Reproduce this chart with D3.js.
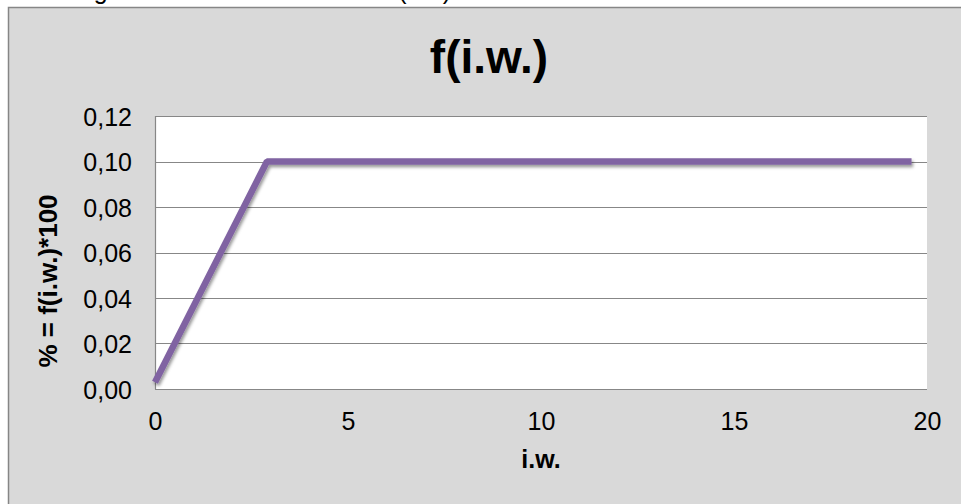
<!DOCTYPE html>
<html>
<head>
<meta charset="utf-8">
<script src="https://cdn.jsdelivr.net/npm/d3@7"></script>
<style>
  html, body { margin: 0; padding: 0; background: #ffffff; overflow: hidden; }
  svg { display: block; font-family: "Liberation Sans", Arial, sans-serif; }
</style>
</head>
<body>
<svg id="chart" width="961" height="504"></svg>
<script>
// ---- data ----
const xValues = [0, 2.9, 19.6];
const yValues = [0.003, 0.1, 0.1];
const xTicks = [0, 5, 10, 15, 20];
const yTicks = [0, 0.02, 0.04, 0.06, 0.08, 0.10, 0.12];
const chartTitle = "f(i.w.)";
const xTitle = "i.w.";
const yTitle = "% = f(i.w.)*100";
const captionText = "Fig. 3 Grafico della funzione f(i.w.)";

const svg = d3.select("#chart");
const plot = { left: 155, right: 927, top: 116, bottom: 389 };

const defs = svg.append("defs");
const f = defs.append("filter").attr("id", "shadow").attr("x", "-10%").attr("y", "-10%").attr("width", "120%").attr("height", "140%");
f.append("feDropShadow").attr("dx", 1.5).attr("dy", 2.5).attr("stdDeviation", 1.5)
  .attr("flood-color", "#000").attr("flood-opacity", 0.4);

// caption above (cut off at the top edge, as in the reference)
svg.append("text")
  .attr("x", 451).attr("y", -1.5)
  .attr("text-anchor", "end")
  .attr("font-size", 25)
  .attr("fill", "#000")
  .text(captionText);

// chart area
svg.append("rect")
  .attr("x", 8.5).attr("y", 7.5)
  .attr("width", 980).attr("height", 520)
  .attr("fill", "#D9D9D9").attr("stroke", "#868686").attr("stroke-width", 1.5);

const x = d3.scaleLinear().domain([0, 20]).range([plot.left, plot.right]);
const y = d3.scaleLinear().domain([0, 0.12]).range([plot.bottom, plot.top]);

// plot area
svg.append("rect")
  .attr("x", plot.left).attr("y", plot.top)
  .attr("width", plot.right - plot.left).attr("height", plot.bottom - plot.top)
  .attr("fill", "#ffffff");

// gridlines
svg.append("g").selectAll("line").data(yTicks).join("line")
  .attr("x1", plot.left).attr("x2", plot.right)
  .attr("y1", d => Math.round(y(d)) + 0.5).attr("y2", d => Math.round(y(d)) + 0.5)
  .attr("stroke", "#878787").attr("stroke-width", 1.2);

// left axis line
svg.append("line")
  .attr("x1", plot.left + 0.5).attr("x2", plot.left + 0.5)
  .attr("y1", plot.top).attr("y2", plot.bottom + 0.5)
  .attr("stroke", "#878787").attr("stroke-width", 1.2);

// y axis
const fmt = d => d3.format(".2f")(d).replace(".", ",");
const yAxis = d3.axisLeft(y).tickValues(yTicks).tickFormat(fmt).tickSize(0).tickPadding(0);
const gy = svg.append("g").attr("transform", `translate(${plot.left - 23},0)`).call(yAxis);
gy.select(".domain").remove();
gy.selectAll("text").attr("font-size", 25).attr("fill", "#000")
  .attr("font-family", "'Liberation Sans', Arial, sans-serif").attr("dy", "0.36em");

// x axis
const xAxis = d3.axisBottom(x).tickValues(xTicks).tickFormat(d3.format("d")).tickSize(0).tickPadding(0);
const gx = svg.append("g").attr("transform", `translate(0,${plot.bottom + 23})`).call(xAxis);
gx.select(".domain").remove();
gx.selectAll("text").attr("font-size", 25).attr("fill", "#000")
  .attr("font-family", "'Liberation Sans', Arial, sans-serif").attr("dy", "0.71em");

// line
const pts = xValues.map((v, i) => [v, yValues[i]]);
svg.append("path")
  .datum(pts)
  .attr("d", d3.line().x(d => x(d[0])).y(d => y(d[1])))
  .attr("fill", "none")
  .attr("stroke", "#8064A2")
  .attr("stroke-width", 6.5)
  .attr("stroke-linejoin", "bevel")
  .attr("stroke-linecap", "butt")
  .attr("filter", "url(#shadow)");

// title
svg.append("text")
  .attr("x", 489).attr("y", 73)
  .attr("text-anchor", "middle")
  .attr("font-size", 46).attr("font-weight", "bold")
  .attr("fill", "#000")
  .text(chartTitle);

// x title
svg.append("text")
  .attr("x", (plot.left + plot.right) / 2).attr("y", 468)
  .attr("text-anchor", "middle")
  .attr("font-size", 25).attr("font-weight", "bold")
  .attr("fill", "#000")
  .text(xTitle);

// y title
svg.append("text")
  .attr("transform", "translate(57,281) rotate(-90)")
  .attr("text-anchor", "middle")
  .attr("font-size", 26).attr("font-weight", "bold")
  .attr("fill", "#000")
  .text(yTitle);
</script>
</body>
</html>
